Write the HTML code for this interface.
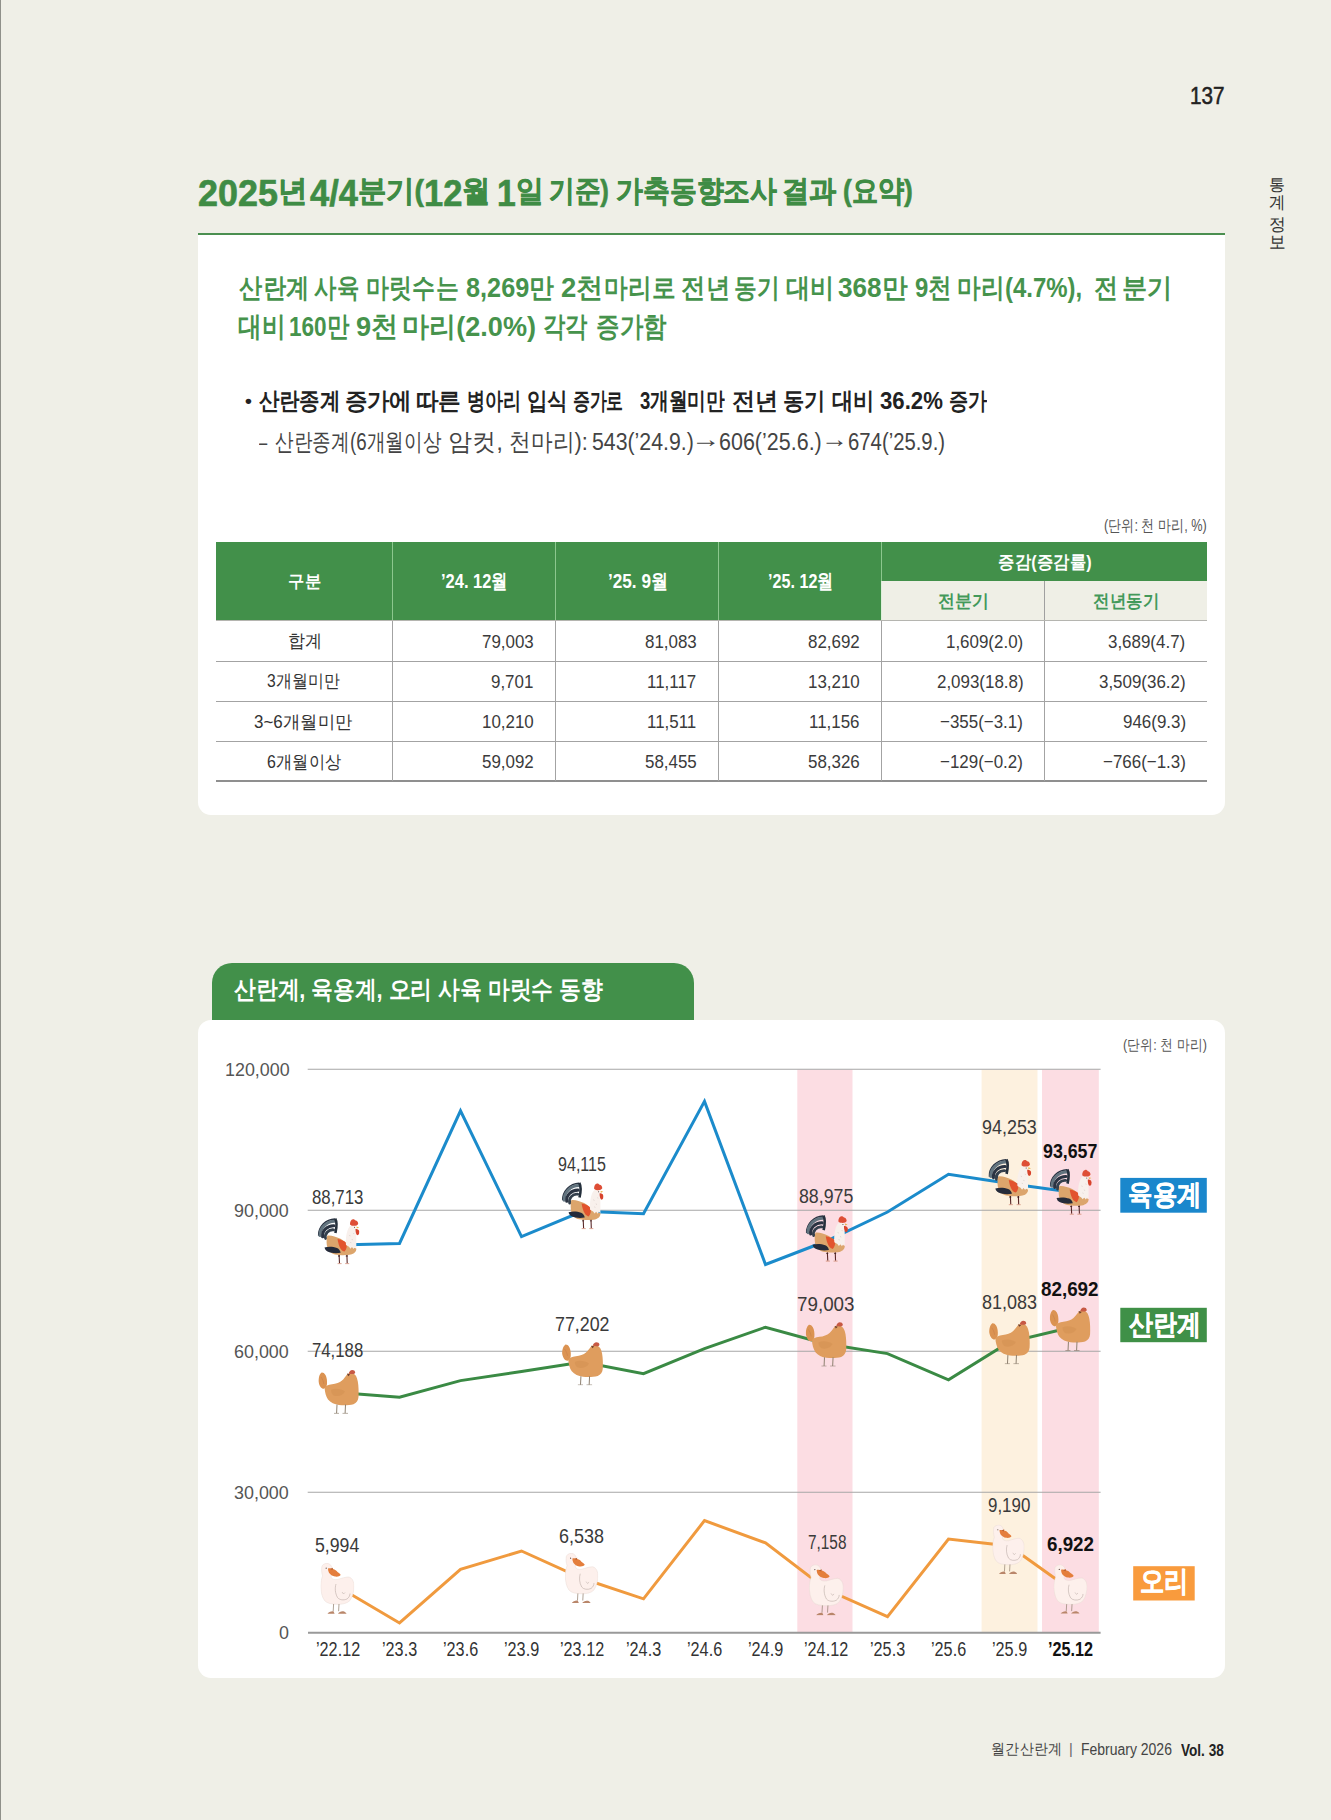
<!DOCTYPE html>
<html><head><meta charset="utf-8"><title>page</title>
<style>
html,body{margin:0;padding:0}
body{width:1331px;height:1820px;position:relative;overflow:hidden;background:#efefe7;font-family:'Liberation Sans',sans-serif}
.a{position:absolute}
.t{position:absolute;white-space:nowrap;line-height:1;transform-origin:0 0}
</style></head><body>
<div class="a" style="left:0;top:0;width:1.2px;height:1820px;background:#8f908a"></div>
<div class="a" style="left:198.3px;top:232.6px;width:1026.5px;height:2.2px;background:#4b8f50"></div>
<div class="a" style="left:198px;top:234.8px;width:1026.7px;height:580px;background:#fff;border-radius:0 0 13px 13px"></div>

<div class="a" style="left:215.8px;top:542px;width:991.5px;height:78.8px;background:#42904a"></div>
<div class="a" style="left:881.4px;top:580.5px;width:325.9px;height:40.3px;background:#efefe6"></div>
<div class="a" style="left:391.9px;top:542px;width:1px;height:78.8px;background:#8cc78e"></div>
<div class="a" style="left:554.9px;top:542px;width:1px;height:78.8px;background:#8cc78e"></div>
<div class="a" style="left:718.0px;top:542px;width:1px;height:78.8px;background:#8cc78e"></div>
<div class="a" style="left:880.9px;top:542px;width:1px;height:38.5px;background:#8cc78e"></div>
<div class="a" style="left:880.9px;top:580.5px;width:1px;height:40.3px;background:#dcefd9"></div>
<div class="a" style="left:1043.9px;top:580.5px;width:1px;height:40.3px;background:#a0a0a0"></div>
<div class="a" style="left:215.8px;top:620.3px;width:991.5px;height:1px;background:#b5b5b0"></div>
<div class="a" style="left:215.8px;top:660.5px;width:991.5px;height:1px;background:#a3a3a3"></div>
<div class="a" style="left:215.8px;top:700.6px;width:991.5px;height:1px;background:#a3a3a3"></div>
<div class="a" style="left:215.8px;top:740.8px;width:991.5px;height:1px;background:#a3a3a3"></div>
<div class="a" style="left:215.8px;top:780.4px;width:991.5px;height:1.6px;background:#8f8f8f"></div>
<div class="a" style="left:391.9px;top:620.8px;width:1px;height:160px;background:#a3a3a3"></div>
<div class="a" style="left:554.9px;top:620.8px;width:1px;height:160px;background:#a3a3a3"></div>
<div class="a" style="left:718.0px;top:620.8px;width:1px;height:160px;background:#a3a3a3"></div>
<div class="a" style="left:880.9px;top:620.8px;width:1px;height:160px;background:#a3a3a3"></div>
<div class="a" style="left:1043.9px;top:620.8px;width:1px;height:160px;background:#a3a3a3"></div>
<div class="a" style="left:212.3px;top:963px;width:481.5px;height:58px;background:#42904a;border-radius:20px 20px 0 0"></div>
<div class="a" style="left:198px;top:1019.6px;width:1026.7px;height:658.4px;background:#fff;border-radius:13px"></div>
<svg class="a" style="left:0;top:0" width="1331" height="1820" viewBox="0 0 1331 1820"><defs>
<symbol id="rooster" viewBox="7.7 12.8 41.7 46.7" preserveAspectRatio="none">
 <path d="M25 14 A17 16.5 0 0 0 8.6 30.8" fill="none" stroke="#2a3342" stroke-width="1.6"/>
 <path d="M24.6 16.3 A15 14 0 0 0 10 30.6" fill="none" stroke="#62747f" stroke-width="3" stroke-linecap="round"/>
 <path d="M24 20.8 A11 10 0 0 0 12.6 31.8" fill="none" stroke="#2b3443" stroke-width="3" stroke-linecap="round"/>
 <path d="M23.6 24.8 A7.5 7 0 0 0 15.6 33.5" fill="none" stroke="#34404d" stroke-width="2.8" stroke-linecap="round"/>
 <path d="M25.2 13.6 C26.8 16.5 26.8 22 25.4 28" fill="none" stroke="#25303c" stroke-width="2.6"/>
 <path d="M17.3 30.5 C21 30 26 31.5 30 33.5 C33 35 35.5 37 37 40 L46.3 43.5 C46.5 46 45 48.5 41 49.6 C37 50.4 30 50.5 25 49.5 C20.5 48.5 17.5 45 16.8 40 C16.4 36.5 16.6 33 17.3 30.5Z" fill="#dca56c"/>
 <path d="M27.5 34 C31 34.5 34.5 36 36.5 38 C37.2 41 36.6 44.5 34.5 46.6 C31.5 46 29 43 27.5 34Z" fill="#e2532e"/>
 <path d="M14.5 42.5 C18 41.5 23 41.5 27 43 C29 44 30.3 45.5 30.6 47.8 C26 48.5 21 48.2 17.5 46.5 C15.8 45.5 14.8 44 14.5 42.5Z" fill="#252b3a"/>
 <path d="M36 40 C35.5 33 36.5 26 39.5 21.5 C41.5 19.8 44 19.8 45.5 21 C46.3 26 46.5 34 46.3 43.5 L44.8 42 L43.5 44 L42 42 L40.5 43.8 L39 41.8Z" fill="#f8f0ec"/>
 <path d="M39.5 30 l0.6 1.2 M42 34 l0.5 1.2 M40.5 37 l0.5 1.1 M43.5 28 l0.4 1" stroke="#c9bdb8" stroke-width="0.5"/>
 <path d="M40 19.5 C39.8 17 41 14.5 43 14.2 C44 14 45 14.8 45.5 15.5 C47 15.5 48.2 17 48.2 19 C47.5 20.5 45.5 21 43 20.8 C41.8 20.7 40.6 20.3 40 19.5Z" fill="#de4e36"/>
 <path d="M46.5 21.5 L49.2 22.4 L46.7 23.4Z" fill="#e9b44a"/>
 <circle cx="44.5" cy="22.3" r="0.5" fill="#3a2a2a"/>
 <path d="M45.5 24 C47.2 23.6 49 24.5 49.4 26.5 C49.6 28.2 48.8 30 47.4 30.2 C46 29.6 45.5 27 45.5 24Z" fill="#d8432c"/>
 <path d="M29.1 50 L29.5 58.3 M36.9 50 L37.2 58.3" stroke="#5a2828" stroke-width="1.1"/>
 <path d="M29 50.6 L29 51.4 M36.8 50.6 L36.8 51.4" stroke="#3a1c1c" stroke-width="2"/>
 <path d="M27.6 58.7 L31.6 58.7 M35.2 58.7 L39.2 58.7" stroke="#d5937f" stroke-width="0.9"/>
</symbol>
<symbol id="hen" viewBox="6.3 6.9 41 44.8" preserveAspectRatio="none">
 <path d="M6.6 20 C6.4 16 7.5 12 9.6 10.5 C11 10.3 12.3 11 13.5 13 C14.8 15.5 15.3 19 15 22 C14.8 24 14 25.5 12 26.8 C9.5 27 7.5 24.5 6.6 20Z" fill="#db9352"/>
 <path d="M9 15 C10.5 17 11.5 19.5 11.8 22" stroke="#c9804a" stroke-width="0.6" fill="none"/>
 <path d="M12.6 26 C13.5 24 16 22.6 20 22.3 C24 22 27.5 20.5 30 18.5 C32 16.8 33.5 14.5 35 12.5 C36 11 38.5 10.6 41 11.3 C43.5 12.5 45 15 45.8 19.5 C46.6 24 46.8 30 46.5 35 C46.2 38.5 44.5 41 41.5 42.2 C37.5 43.3 32 43.5 27 43 C22.5 42.5 18.5 40.5 16 37.5 C14 34.5 12.8 30 12.6 26Z" fill="#df9d5e"/>
 <path d="M19 28 C23 26 29 26.5 33 29.5 C31 33.5 26 35 21.5 33.5 C19.8 32 19 30 19 28Z" fill="#d18d50" opacity="0.45"/>
 <path d="M36.8 11.2 C37.2 9.3 38.6 8 40.2 8 C41.8 8 43 8.8 43.2 10.5 C43 11.6 42 12 40.5 12.1 C39 12.2 37.6 11.9 36.8 11.2Z" fill="#c75944"/>
 <path d="M35 11.6 L38.2 12.5 L36.2 14.2Z" fill="#6b3d2e"/>
 <path d="M25 42.5 L24.6 51.2 M33.5 42.5 L33.1 51.2" stroke="#8e8070" stroke-width="1"/>
 <path d="M22 51.4 L27 51.4 M30.5 51.4 L36 51.4" stroke="#8e8070" stroke-width="0.8"/>
</symbol>
<symbol id="duck" viewBox="6.5 7 33.8 51.2" preserveAspectRatio="none">
 <path d="M8 10 C9.5 7.5 12.5 6.8 15 7.8 C17 8.8 18.3 11 18.2 14 C18 17 17.2 19.5 17 21 C17.5 23 20 24 23.5 23.5 C27 22.5 31 21 34.5 21 C37.5 21.5 39.6 24.5 40 29 C40.3 34 39 40 36 44.5 C33 47.5 28.5 48.5 23 48.3 C18 48.2 13 47.5 10.5 44.5 C8 41 7 36 6.8 31 C6.7 26 7.5 22.5 8.6 20 C7.6 17 7.2 13 8 10Z" fill="#fdf0ec" stroke="#eadcd6" stroke-width="0.5"/>
 <path d="M22 28 C20.8 32 21 37 23.5 41.5 C25.5 44 29.5 44.5 33 43 C35 41.5 36 39.5 36 37.5" fill="none" stroke="#b5a6a0" stroke-width="0.55"/>
 <path d="M28 36 L29.5 38 L31 36.5" fill="none" stroke="#b5a6a0" stroke-width="0.5"/>
 <path d="M14 12.5 C15.5 12.2 17.5 12.4 19 13 C21 13.5 22.5 14.5 23.5 16 C25 17 26.5 18 26.6 19 C25.5 20.5 23.5 21 21 20.6 C18.5 20 16.2 18.8 15 16.8 C14.3 15.5 14 14 14 12.5Z" fill="#e47e3c"/>
 <path d="M16 13 L19 11.8 L18.5 14Z" fill="#b86030"/>
 <circle cx="12.2" cy="12.2" r="0.6" fill="#5a4a45"/>
 <path d="M19.6 48 L19.2 55.2 M25 48 L24.6 55.2" stroke="#9c8a7a" stroke-width="0.8"/>
 <path d="M13.5 57.8 C14.5 56 17 55 19.5 55.3 L20.6 57.8Z M24 57.8 C25 56 27.5 55 30 55.5 C31.5 56.3 32.4 57 32.5 57.8Z" fill="#b9866a"/>
</symbol></defs><rect x="797.3" y="1069.5" width="55.2" height="563" fill="#fcdde3"/><rect x="981.6" y="1069.5" width="55.9" height="563" fill="#fdf1df"/><rect x="1042" y="1069.5" width="56.8" height="563" fill="#fcdde3"/><line x1="307.7" y1="1069.3" x2="1100.6" y2="1069.3" stroke="#a6a6a6" stroke-width="1.1"/><line x1="307.7" y1="1210.3" x2="1100.6" y2="1210.3" stroke="#a6a6a6" stroke-width="1.1"/><line x1="307.7" y1="1351.3" x2="1100.6" y2="1351.3" stroke="#a6a6a6" stroke-width="1.1"/><line x1="307.7" y1="1492.3" x2="1100.6" y2="1492.3" stroke="#a6a6a6" stroke-width="1.1"/><line x1="308" y1="1632.8" x2="1100.6" y2="1632.8" stroke="#999" stroke-width="2"/><polyline points="338.5,1245.0 399.5,1243.4 460.5,1110.8 521.5,1236.6 582.5,1211.3 643.5,1213.7 704.5,1101.4 765.5,1264.5 826.5,1241.0 887.5,1212.0 948.5,1174.2 1009.5,1183.5 1070.5,1192.0" fill="none" stroke="#1b8bcb" stroke-width="3" stroke-linejoin="miter"/><polyline points="338.5,1392.5 399.5,1397.3 460.5,1380.6 521.5,1371.5 582.5,1362.0 643.5,1373.6 704.5,1348.7 765.5,1327.2 826.5,1344.0 887.5,1353.6 948.5,1379.8 1009.5,1342.0 1070.5,1327.5" fill="none" stroke="#3a8a44" stroke-width="3" stroke-linejoin="miter"/><polyline points="338.5,1587.0 399.5,1623.0 460.5,1569.4 521.5,1551.0 582.5,1578.5 643.5,1598.8 704.5,1520.6 765.5,1542.9 826.5,1589.5 887.5,1616.6 948.5,1539.0 1009.5,1546.0 1070.5,1589.5" fill="none" stroke="#f09a3e" stroke-width="3" stroke-linejoin="miter"/><use href="#rooster" x="317.7" y="1217.8" width="41.7" height="46.7"/><use href="#rooster" x="561.8" y="1182" width="41.7" height="47.5"/><use href="#rooster" x="805.7" y="1214.8" width="42.2" height="47.1"/><use href="#rooster" x="988.4" y="1158.5" width="42.8" height="47.1"/><use href="#rooster" x="1049.7" y="1168.5" width="42.0" height="46.5"/><use href="#hen" x="318.3" y="1368.9" width="41.0" height="44.8"/><use href="#hen" x="561.9" y="1341.1" width="41.7" height="44.2"/><use href="#hen" x="805.6" y="1321.2" width="41.4" height="45.3"/><use href="#hen" x="989" y="1319.6" width="41.4" height="44.6"/><use href="#hen" x="1049.6" y="1306.4" width="41.3" height="44.6"/><use href="#duck" x="320.5" y="1563" width="33.8" height="51.2"/><use href="#duck" x="565" y="1553" width="33.2" height="50.5"/><use href="#duck" x="809" y="1564.4" width="34.6" height="51.2"/><use href="#duck" x="992.4" y="1524.7" width="32.1" height="49.6"/><use href="#duck" x="1053.6" y="1564.4" width="33.7" height="49.6"/><rect x="1120.3" y="1177.9" width="86.5" height="34.8" fill="#1a87cc"/><rect x="1120.3" y="1307.8" width="86.5" height="34.4" fill="#3f9047"/><rect x="1133.2" y="1566.2" width="61.5" height="34.3" fill="#f99b3d"/></svg>
<div class="t" style="left:1189.74px;top:84.54px;font-size:23.5px;font-weight:400;color:#222;transform:scale(0.8811,0.9824);-webkit-text-stroke:0.55px #222">137</div>
<div class="t" style="left:1269.24px;top:177.24px;font-size:17px;font-weight:400;color:#333;transform:scale(0.96,0.9625)">통</div>
<div class="t" style="left:1269.41px;top:194.18px;font-size:17px;font-weight:400;color:#333;transform:scale(0.9857,1.0188)">계</div>
<div class="t" style="left:1269.4px;top:216.19px;font-size:17px;font-weight:400;color:#333;transform:scale(1.0,1.0063)">정</div>
<div class="t" style="left:1269.24px;top:233.32px;font-size:17px;font-weight:400;color:#333;transform:scale(0.96,1.0385)">보</div>
<div class="t" style="left:198.11px;top:176.28px;font-size:33px;font-weight:700;color:#3f8c45;transform:scale(0.8941,0.9094);-webkit-text-stroke:0.7px #3f8c45"><span style="font-size:1.217em;line-height:0;position:relative;top:0.123em">2025</span>년</div>
<div class="t" style="left:310.0px;top:176.28px;font-size:33px;font-weight:700;color:#3f8c45;transform:scale(0.8582,0.9094);-webkit-text-stroke:0.7px #3f8c45"><span style="font-size:1.217em;line-height:0;position:relative;top:0.123em">4/4</span>분기(<span style="font-size:1.217em;line-height:0;position:relative;top:0.123em">12</span>월</div>
<div class="t" style="left:497.32px;top:176.28px;font-size:33px;font-weight:700;color:#3f8c45;transform:scale(0.84,0.9094);-webkit-text-stroke:0.7px #3f8c45"><span style="font-size:1.217em;line-height:0;position:relative;top:0.123em">1</span>일</div>
<div class="t" style="left:548.82px;top:176.28px;font-size:33px;font-weight:700;color:#3f8c45;transform:scale(0.776,0.9094);-webkit-text-stroke:0.7px #3f8c45">기준)</div>
<div class="t" style="left:615.99px;top:176.28px;font-size:33px;font-weight:700;color:#3f8c45;transform:scale(0.8132,0.9094);-webkit-text-stroke:0.7px #3f8c45">가축동향조사</div>
<div class="t" style="left:781.65px;top:176.28px;font-size:33px;font-weight:700;color:#3f8c45;transform:scale(0.8234,0.9094);-webkit-text-stroke:0.7px #3f8c45">결과</div>
<div class="t" style="left:842.91px;top:176.28px;font-size:33px;font-weight:700;color:#3f8c45;transform:scale(0.7907,0.9094);-webkit-text-stroke:0.7px #3f8c45">(요약)</div>
<div class="t" style="left:238.7px;top:273.66px;font-size:29px;font-weight:700;color:#46934c;transform:scale(0.8119,0.9429)">산란계</div>
<div class="t" style="left:314.3px;top:273.66px;font-size:29px;font-weight:700;color:#46934c;transform:scale(0.7825,0.9429)">사육</div>
<div class="t" style="left:366.0px;top:273.66px;font-size:29px;font-weight:700;color:#46934c;transform:scale(0.8009,0.9429)">마릿수는</div>
<div class="t" style="left:465.93px;top:273.66px;font-size:29px;font-weight:700;color:#46934c;transform:scale(0.8713,0.9429)">8,269만</div>
<div class="t" style="left:560.95px;top:273.66px;font-size:29px;font-weight:700;color:#46934c;transform:scale(0.9488,0.9429)">2천</div>
<div class="t" style="left:604.15px;top:273.66px;font-size:29px;font-weight:700;color:#46934c;transform:scale(0.8262,0.9429)">마리로</div>
<div class="t" style="left:680.55px;top:273.66px;font-size:29px;font-weight:700;color:#46934c;transform:scale(0.85,0.9429)">전년</div>
<div class="t" style="left:733.9px;top:273.66px;font-size:29px;font-weight:700;color:#46934c;transform:scale(0.7962,0.9429)">동기</div>
<div class="t" style="left:785.96px;top:273.66px;font-size:29px;font-weight:700;color:#46934c;transform:scale(0.8415,0.9429)">대비</div>
<div class="t" style="left:838.0px;top:273.66px;font-size:29px;font-weight:700;color:#46934c;transform:scale(0.9,0.9429)">368만</div>
<div class="t" style="left:914.58px;top:273.66px;font-size:29px;font-weight:700;color:#46934c;transform:scale(0.8244,0.9429)">9천</div>
<div class="t" style="left:956.85px;top:273.66px;font-size:29px;font-weight:700;color:#46934c;transform:scale(0.8264,0.9429)">마리(4.7%),</div>
<div class="t" style="left:1093.86px;top:273.66px;font-size:29px;font-weight:700;color:#46934c;transform:scale(0.84,0.9429)">전</div>
<div class="t" style="left:1121.82px;top:273.66px;font-size:29px;font-weight:700;color:#46934c;transform:scale(0.8792,0.9429)">분기</div>
<div class="t" style="left:237.88px;top:313.33px;font-size:29px;font-weight:700;color:#46934c;transform:scale(0.817,0.9679)">대비</div>
<div class="t" style="left:289.15px;top:313.33px;font-size:29px;font-weight:700;color:#46934c;transform:scale(0.7773,0.9679)">160만</div>
<div class="t" style="left:355.56px;top:313.33px;font-size:29px;font-weight:700;color:#46934c;transform:scale(0.9366,0.9679)">9천</div>
<div class="t" style="left:401.73px;top:313.33px;font-size:29px;font-weight:700;color:#46934c;transform:scale(0.935,0.9679)">마리(2.0%)</div>
<div class="t" style="left:542.93px;top:313.33px;font-size:29px;font-weight:700;color:#46934c;transform:scale(0.7719,0.9679)">각각</div>
<div class="t" style="left:596.29px;top:313.33px;font-size:29px;font-weight:700;color:#46934c;transform:scale(0.8105,0.9679)">증가함</div>
<div class="t" style="left:244.79px;top:391.69px;font-size:24px;font-weight:700;color:#222;transform:scale(0.8143,0.7571)">•</div>
<div class="t" style="left:258.6px;top:388.71px;font-size:24px;font-weight:700;color:#222;transform:scale(0.843,0.987)">산란종계</div>
<div class="t" style="left:344.68px;top:388.71px;font-size:24px;font-weight:700;color:#222;transform:scale(0.9235,0.987)">증가에</div>
<div class="t" style="left:416.07px;top:388.71px;font-size:24px;font-weight:700;color:#222;transform:scale(0.9304,0.987)">따른</div>
<div class="t" style="left:466.91px;top:388.71px;font-size:24px;font-weight:700;color:#222;transform:scale(0.7448,0.987)">병아리</div>
<div class="t" style="left:527.46px;top:388.71px;font-size:24px;font-weight:700;color:#222;transform:scale(0.8432,0.987)">입식</div>
<div class="t" style="left:573.3px;top:388.71px;font-size:24px;font-weight:700;color:#222;transform:scale(0.6971,0.987)">증가로</div>
<div class="t" style="left:640.0px;top:388.71px;font-size:24px;font-weight:700;color:#222;transform:scale(0.7725,0.987)">3개월미만</div>
<div class="t" style="left:731.85px;top:388.71px;font-size:24px;font-weight:700;color:#222;transform:scale(0.9511,0.987)">전년</div>
<div class="t" style="left:783.22px;top:388.71px;font-size:24px;font-weight:700;color:#222;transform:scale(0.8773,0.987)">동기</div>
<div class="t" style="left:831.83px;top:388.71px;font-size:24px;font-weight:700;color:#222;transform:scale(0.875,0.987)">대비</div>
<div class="t" style="left:879.8px;top:388.71px;font-size:24px;font-weight:700;color:#222;transform:scale(0.9235,0.987)">36.2%</div>
<div class="t" style="left:948.91px;top:388.71px;font-size:24px;font-weight:700;color:#222;transform:scale(0.7894,0.987)">증가</div>
<div class="t" style="left:259.2px;top:430.3px;font-size:24px;font-weight:400;color:#444;transform:scale(0.6143,1.0)">–</div>
<div class="t" style="left:274.92px;top:430.28px;font-size:24px;font-weight:400;color:#444;transform:scale(0.7811,1.0091)">산란종계(6개월이상</div>
<div class="t" style="left:447.78px;top:430.28px;font-size:24px;font-weight:400;color:#444;transform:scale(1.0078,1.0091)">암컷,</div>
<div class="t" style="left:509.38px;top:430.28px;font-size:24px;font-weight:400;color:#444;transform:scale(0.9108,1.0091)">천마리):</div>
<div class="t" style="left:591.71px;top:430.28px;font-size:24px;font-weight:400;color:#444;transform:scale(0.8867,1.0091)">543(’24.9.)</div>
<div class="t" style="left:719.1px;top:430.28px;font-size:24px;font-weight:400;color:#444;transform:scale(0.8956,1.0091)">606(’25.6.)</div>
<div class="t" style="left:847.55px;top:430.28px;font-size:24px;font-weight:400;color:#444;transform:scale(0.846,1.0091)">674(’25.9.)</div>
<div class="t" style="left:690.86px;top:427.0px;font-size:24px;font-weight:400;color:#444;transform:scale(1.2286,1.0)">→</div>
<div class="t" style="left:821.39px;top:427.0px;font-size:24px;font-weight:400;color:#444;transform:scale(1.1214,1.0)">→</div>
<div class="t" style="left:1103.83px;top:518.35px;font-size:16.5px;font-weight:400;color:#555;transform:scale(0.7697,0.95)">(단위: 천 마리, %)</div>
<div class="t" style="left:287.71px;top:572.78px;font-size:20.5px;font-weight:700;color:#ffffff;transform:scale(0.7875,0.82)">구분</div>
<div class="t" style="left:440.7px;top:571.22px;font-size:20.5px;font-weight:700;color:#ffffff;transform:scale(0.8049,0.9842)">’24. 12월</div>
<div class="t" style="left:607.66px;top:571.22px;font-size:20.5px;font-weight:700;color:#ffffff;transform:scale(0.8377,0.9842)">’25. 9월</div>
<div class="t" style="left:767.71px;top:571.22px;font-size:20.5px;font-weight:700;color:#ffffff;transform:scale(0.7877,0.9842)">’25. 12월</div>
<div class="t" style="left:997.71px;top:552.73px;font-size:20.5px;font-weight:700;color:#ffffff;transform:scale(0.7889,0.87)">증감(증감률)</div>
<div class="t" style="left:938.18px;top:592.43px;font-size:20.5px;font-weight:700;color:#43995a;transform:scale(0.8153,0.87)">전분기</div>
<div class="t" style="left:1092.91px;top:592.43px;font-size:20.5px;font-weight:700;color:#43995a;transform:scale(0.7937,0.87)">전년동기</div>
<div class="t" style="left:287.5px;top:633.45px;font-size:18.5px;font-weight:400;color:#333;transform:scale(0.9029,0.9529)">합계</div>
<div class="t" style="left:267.25px;top:673.45px;font-size:18.5px;font-weight:400;color:#333;transform:scale(0.8459,0.9529)">3개월미만</div>
<div class="t" style="left:254.28px;top:713.55px;font-size:18.5px;font-weight:400;color:#333;transform:scale(0.917,0.9529)">3~6개월미만</div>
<div class="t" style="left:266.74px;top:753.75px;font-size:18.5px;font-weight:400;color:#333;transform:scale(0.86,0.9529)">6개월이상</div>
<div class="t" style="left:233.69px;top:978.08px;font-size:27px;font-weight:700;color:#ffffff;transform:scale(0.8057,0.9231)">산란계, 육용계, 오리 사육 마릿수 동향</div>
<div class="t" style="left:1122.83px;top:1037.0px;font-size:16.5px;font-weight:400;color:#555;transform:scale(0.7657,0.9)">(단위: 천 마리)</div>
<div class="t" style="left:1127.78px;top:1180.11px;font-size:29.5px;font-weight:700;color:#ffffff;transform:scale(0.8212,0.9429);-webkit-text-stroke:0.5px #ffffff">육용계</div>
<div class="t" style="left:1128.6px;top:1309.71px;font-size:29.5px;font-weight:700;color:#ffffff;transform:scale(0.8047,0.9429);-webkit-text-stroke:0.5px #ffffff">산란계</div>
<div class="t" style="left:1139.68px;top:1567.35px;font-size:29.5px;font-weight:700;color:#ffffff;transform:scale(0.8164,0.975);-webkit-text-stroke:0.5px #ffffff">오리</div>
<div class="t" style="left:991.16px;top:1740.7px;font-size:17px;font-weight:400;color:#444;transform:scale(0.8415,0.9)">월간산란계</div>
<div class="t" style="left:1069.45px;top:1741.83px;font-size:17px;font-weight:400;color:#666;transform:scale(0.85,0.8333)">|</div>
<div class="t" style="left:1080.75px;top:1741.43px;font-size:16.5px;font-weight:400;color:#444;transform:scale(0.8472,1.0333)">February 2026</div>
<div class="t" style="left:1181.0px;top:1741.53px;font-size:16.5px;font-weight:700;color:#222;transform:scale(0.8231,0.9833)">Vol. 38</div>
<div class="t" style="left:481.51px;top:631.5px;font-size:19px;font-weight:400;color:#3b3b3b;transform:scale(0.8912,1.0)">79,003</div>
<div class="t" style="left:644.51px;top:631.5px;font-size:19px;font-weight:400;color:#3b3b3b;transform:scale(0.8912,1.0)">81,083</div>
<div class="t" style="left:808.4px;top:631.5px;font-size:19px;font-weight:400;color:#3b3b3b;transform:scale(0.8912,1.0)">82,692</div>
<div class="t" style="left:945.55px;top:631.5px;font-size:19px;font-weight:400;color:#3b3b3b;transform:scale(0.8912,1.0)">1,609(2.0)</div>
<div class="t" style="left:1108.35px;top:631.5px;font-size:19px;font-weight:400;color:#3b3b3b;transform:scale(0.8912,1.0)">3,689(4.7)</div>
<div class="t" style="left:491.31px;top:671.5px;font-size:19px;font-weight:400;color:#3b3b3b;transform:scale(0.8912,1.0)">9,701</div>
<div class="t" style="left:647.18px;top:671.5px;font-size:19px;font-weight:400;color:#3b3b3b;transform:scale(0.8912,1.0)">11,117</div>
<div class="t" style="left:807.51px;top:671.5px;font-size:19px;font-weight:400;color:#3b3b3b;transform:scale(0.8912,1.0)">13,210</div>
<div class="t" style="left:936.64px;top:671.5px;font-size:19px;font-weight:400;color:#3b3b3b;transform:scale(0.8912,1.0)">2,093(18.8)</div>
<div class="t" style="left:1099.44px;top:671.5px;font-size:19px;font-weight:400;color:#3b3b3b;transform:scale(0.8912,1.0)">3,509(36.2)</div>
<div class="t" style="left:481.51px;top:711.6px;font-size:19px;font-weight:400;color:#3b3b3b;transform:scale(0.8912,1.0)">10,210</div>
<div class="t" style="left:647.18px;top:711.6px;font-size:19px;font-weight:400;color:#3b3b3b;transform:scale(0.8912,1.0)">11,511</div>
<div class="t" style="left:809.29px;top:711.6px;font-size:19px;font-weight:400;color:#3b3b3b;transform:scale(0.8912,1.0)">11,156</div>
<div class="t" style="left:940.21px;top:711.6px;font-size:19px;font-weight:400;color:#3b3b3b;transform:scale(0.8912,1.0)">−355(−3.1)</div>
<div class="t" style="left:1122.61px;top:711.6px;font-size:19px;font-weight:400;color:#3b3b3b;transform:scale(0.8912,1.0)">946(9.3)</div>
<div class="t" style="left:482.4px;top:751.8px;font-size:19px;font-weight:400;color:#3b3b3b;transform:scale(0.8912,1.0)">59,092</div>
<div class="t" style="left:644.51px;top:751.8px;font-size:19px;font-weight:400;color:#3b3b3b;transform:scale(0.8912,1.0)">58,455</div>
<div class="t" style="left:807.51px;top:751.8px;font-size:19px;font-weight:400;color:#3b3b3b;transform:scale(0.8912,1.0)">58,326</div>
<div class="t" style="left:940.21px;top:751.8px;font-size:19px;font-weight:400;color:#3b3b3b;transform:scale(0.8912,1.0)">−129(−0.2)</div>
<div class="t" style="left:1103.01px;top:751.8px;font-size:19px;font-weight:400;color:#3b3b3b;transform:scale(0.8912,1.0)">−766(−1.3)</div>
<div class="t" style="left:224.86px;top:1059.5px;font-size:19px;font-weight:400;color:#555;transform:scale(0.9418,1.0)">120,000</div>
<div class="t" style="left:234.28px;top:1200.5px;font-size:19px;font-weight:400;color:#555;transform:scale(0.9418,1.0)">90,000</div>
<div class="t" style="left:234.28px;top:1341.5px;font-size:19px;font-weight:400;color:#555;transform:scale(0.9418,1.0)">60,000</div>
<div class="t" style="left:234.28px;top:1482.5px;font-size:19px;font-weight:400;color:#555;transform:scale(0.9418,1.0)">30,000</div>
<div class="t" style="left:279.48px;top:1623.2px;font-size:19px;font-weight:400;color:#555;transform:scale(0.9418,1.0)">0</div>
<div class="t" style="left:312.14px;top:1187.5px;font-size:19.5px;font-weight:400;color:#3a3a3a;transform:scale(0.8621,1.0)">88,713</div>
<div class="t" style="left:558.38px;top:1155.0px;font-size:19.5px;font-weight:400;color:#3a3a3a;transform:scale(0.8246,1.0)">94,115</div>
<div class="t" style="left:799.09px;top:1186.5px;font-size:19.5px;font-weight:400;color:#3a3a3a;transform:scale(0.9103,1.0)">88,975</div>
<div class="t" style="left:982.28px;top:1118.2px;font-size:19.5px;font-weight:400;color:#3a3a3a;transform:scale(0.919,1.0)">94,253</div>
<div class="t" style="left:1043.0px;top:1142.3px;font-size:19.5px;font-weight:700;color:#111;transform:scale(0.9119,1.0)">93,657</div>
<div class="t" style="left:312.44px;top:1341.0px;font-size:19.5px;font-weight:400;color:#3a3a3a;transform:scale(0.8586,1.0)">74,188</div>
<div class="t" style="left:554.69px;top:1314.8px;font-size:19.5px;font-weight:400;color:#3a3a3a;transform:scale(0.9138,1.0)">77,202</div>
<div class="t" style="left:797.34px;top:1295.0px;font-size:19.5px;font-weight:400;color:#3a3a3a;transform:scale(0.9638,1.0)">79,003</div>
<div class="t" style="left:981.58px;top:1292.8px;font-size:19.5px;font-weight:400;color:#3a3a3a;transform:scale(0.9224,1.0)">81,083</div>
<div class="t" style="left:1041.3px;top:1279.6px;font-size:19.5px;font-weight:700;color:#111;transform:scale(0.9644,1.0)">82,692</div>
<div class="t" style="left:315.49px;top:1535.9px;font-size:19.5px;font-weight:400;color:#3a3a3a;transform:scale(0.9083,1.0)">5,994</div>
<div class="t" style="left:559.38px;top:1527.0px;font-size:19.5px;font-weight:400;color:#3a3a3a;transform:scale(0.9213,1.0)">6,538</div>
<div class="t" style="left:807.51px;top:1532.6px;font-size:19.5px;font-weight:400;color:#3a3a3a;transform:scale(0.7872,1.0)">7,158</div>
<div class="t" style="left:988.13px;top:1496.3px;font-size:19.5px;font-weight:400;color:#3a3a3a;transform:scale(0.8681,1.0)">9,190</div>
<div class="t" style="left:1047.0px;top:1535.3px;font-size:19.5px;font-weight:700;color:#111;transform:scale(0.9625,1.0)">6,922</div>
<div class="t" style="left:316.47px;top:1640.0px;font-size:19.5px;font-weight:400;color:#333;transform:scale(0.8314,1.0)">’22.12</div>
<div class="t" style="left:381.63px;top:1640.0px;font-size:19.5px;font-weight:400;color:#333;transform:scale(0.8314,1.0)">’23.3</div>
<div class="t" style="left:442.63px;top:1640.0px;font-size:19.5px;font-weight:400;color:#333;transform:scale(0.8314,1.0)">’23.6</div>
<div class="t" style="left:503.63px;top:1640.0px;font-size:19.5px;font-weight:400;color:#333;transform:scale(0.8314,1.0)">’23.9</div>
<div class="t" style="left:560.47px;top:1640.0px;font-size:19.5px;font-weight:400;color:#333;transform:scale(0.8314,1.0)">’23.12</div>
<div class="t" style="left:625.63px;top:1640.0px;font-size:19.5px;font-weight:400;color:#333;transform:scale(0.8314,1.0)">’24.3</div>
<div class="t" style="left:686.63px;top:1640.0px;font-size:19.5px;font-weight:400;color:#333;transform:scale(0.8314,1.0)">’24.6</div>
<div class="t" style="left:747.63px;top:1640.0px;font-size:19.5px;font-weight:400;color:#333;transform:scale(0.8314,1.0)">’24.9</div>
<div class="t" style="left:804.47px;top:1640.0px;font-size:19.5px;font-weight:400;color:#333;transform:scale(0.8314,1.0)">’24.12</div>
<div class="t" style="left:869.63px;top:1640.0px;font-size:19.5px;font-weight:400;color:#333;transform:scale(0.8314,1.0)">’25.3</div>
<div class="t" style="left:930.63px;top:1640.0px;font-size:19.5px;font-weight:400;color:#333;transform:scale(0.8314,1.0)">’25.6</div>
<div class="t" style="left:991.63px;top:1640.0px;font-size:19.5px;font-weight:400;color:#333;transform:scale(0.8314,1.0)">’25.9</div>
<div class="t" style="left:1047.64px;top:1640.0px;font-size:19.5px;font-weight:700;color:#111;transform:scale(0.8314,1.0)">’25.12</div>
</body></html>
